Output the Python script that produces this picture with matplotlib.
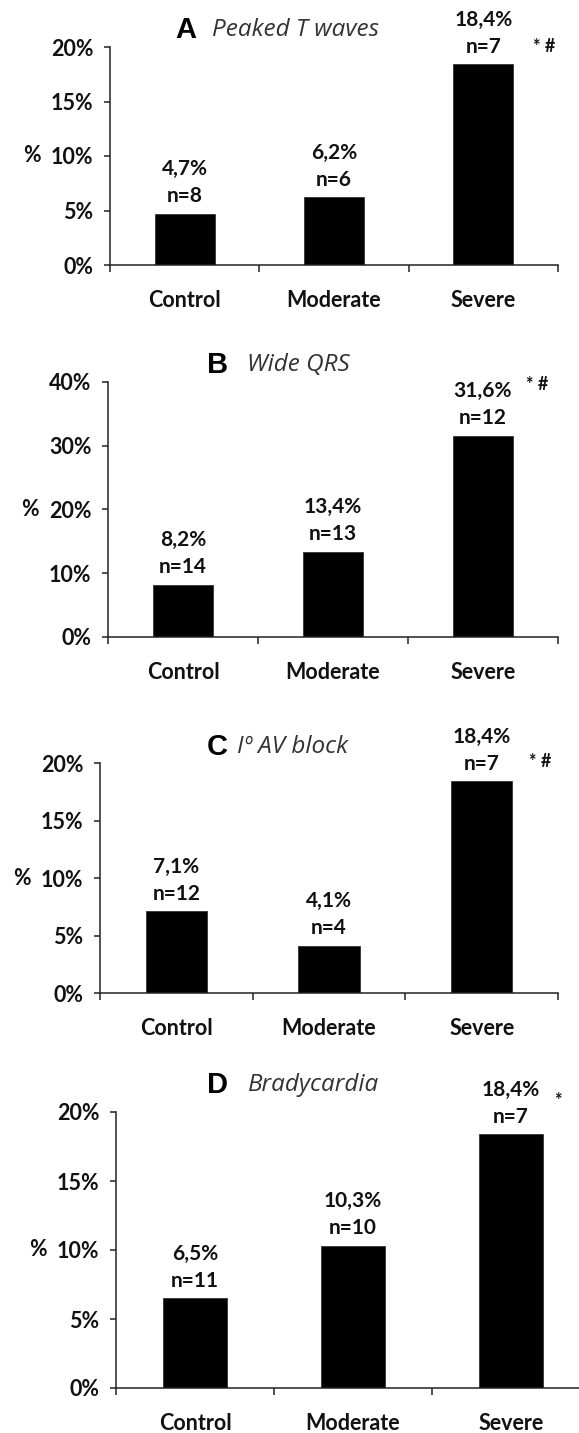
import matplotlib
matplotlib.use('Agg')
import matplotlib.pyplot as plt

plt.rcParams['font.family'] = ['Lato', 'DejaVu Sans']

categories = ['Control', 'Moderate', 'Severe']

letters = ['A', 'B', 'C', 'D']
titles = ['Peaked T waves', 'Wide QRS', 'Iº AV block', 'Bradycardia']

peaked_t = [4.7, 6.2, 18.4]
peaked_t_n = [8, 6, 7]
wide_qrs = [8.2, 13.4, 31.6]
wide_qrs_n = [14, 13, 12]
av_block = [7.1, 4.1, 18.4]
av_block_n = [12, 4, 7]
bradycardia = [6.5, 10.3, 18.4]
bradycardia_n = [11, 10, 7]

y_max = [20, 40, 20, 20]
y_step = [5, 10, 5, 5]
signif = ['* #', '* #', '* #', '*']

values = [peaked_t, wide_qrs, av_block, bradycardia]
counts = [peaked_t_n, wide_qrs_n, av_block_n, bradycardia_n]

W, H = 579, 1433
# axes box in pixels: left, right, y of 0%, y of top tick
boxes = [(110, 558, 265, 47), (108, 558, 637, 382),
         (100, 558, 993, 763), (116, 590, 1388, 1112)]
# letter left x, title centre y, title left x (pixels)
title_pos = [(175, 30, 212), (207, 365, 247), (207, 747, 237), (207, 1085, 248)]
# offset of significance mark from top right corner of the Severe bar (points)
sig_off = [(14, 13), (9, 37), (12, 14), (8, 24)]

fig = plt.figure(figsize=(W / 100, H / 100), dpi=100)
axis_col = '#222222'
txt_col = '#111111'
fs = 15.5

for i in range(4):
    x0, x1, y0, yt = boxes[i]
    ax = fig.add_axes([x0 / W, 1 - y0 / H, (x1 - x0) / W, (y0 - yt) / H])
    pos = list(range(len(categories)))
    ax.bar(pos, values[i], width=0.4, color='black', edgecolor='#333333', linewidth=0.6)

    ax.set_xlim(-0.5, 2.5)
    ax.set_ylim(0, y_max[i])
    ax.set_yticks(range(0, y_max[i] + 1, y_step[i]))
    ax.set_yticklabels([f'{t}%' for t in range(0, y_max[i] + 1, y_step[i])])
    ax.set_xticks(pos)
    ax.set_xticklabels(categories)
    ax.set_xticks([-0.5, 0.5, 1.5, 2.5], minor=True)

    for s in ['top', 'right']:
        ax.spines[s].set_visible(False)
    for s in ['left', 'bottom']:
        ax.spines[s].set_color(axis_col)
        ax.spines[s].set_linewidth(1.1)
    ax.spines['left'].set_bounds(0, y_max[i])

    ax.tick_params(axis='y', direction='out', length=4, width=1.1, color=axis_col,
                   pad=8, labelsize=fs)
    ax.tick_params(axis='x', which='major', length=0, pad=18, labelsize=fs)
    ax.tick_params(axis='x', which='minor', direction='out', length=5, width=1.1,
                   color=axis_col)
    for lab in ax.get_xticklabels() + ax.get_yticklabels():
        lab.set_fontweight('bold')
        lab.set_color(txt_col)

    ax.annotate('%', xy=(0, 0.5), xycoords='axes fraction', xytext=(-50, 0),
                textcoords='offset points', ha='right', va='center',
                fontsize=fs, fontweight='bold', color=txt_col)

    for p, v, n in zip(pos, values[i], counts[i]):
        ax.annotate(f'{v:.1f}'.replace('.', ',') + '%', xy=(p, v), xytext=(0, 32),
                    textcoords='offset points', ha='center', va='center',
                    fontsize=15, fontweight='bold', color=txt_col)
        ax.annotate(f'n={n}', xy=(p, v), xytext=(0, 12.5),
                    textcoords='offset points', ha='center', va='center',
                    fontsize=15, fontweight='bold', color=txt_col)

    dx, dy = sig_off[i]
    ax.annotate(signif[i], xy=(2.2, values[i][2]), xytext=(dx, dy),
                textcoords='offset points', ha='left', va='center',
                fontsize=13, fontweight='bold', color=txt_col)

    lx, ty, tx = title_pos[i]
    fig.text(lx / W, 1 - ty / H, letters[i], ha='left', va='center',
             fontsize=21, fontweight='bold', family=['Liberation Sans', 'DejaVu Sans'])
    fig.text(tx / W, 1 - ty / H, titles[i], ha='left', va='center',
             fontsize=17.5, style='italic', color='#333333',
             family=['Open Sans', 'DejaVu Sans'])

fig.savefig('out.png', dpi=100, facecolor='white')
